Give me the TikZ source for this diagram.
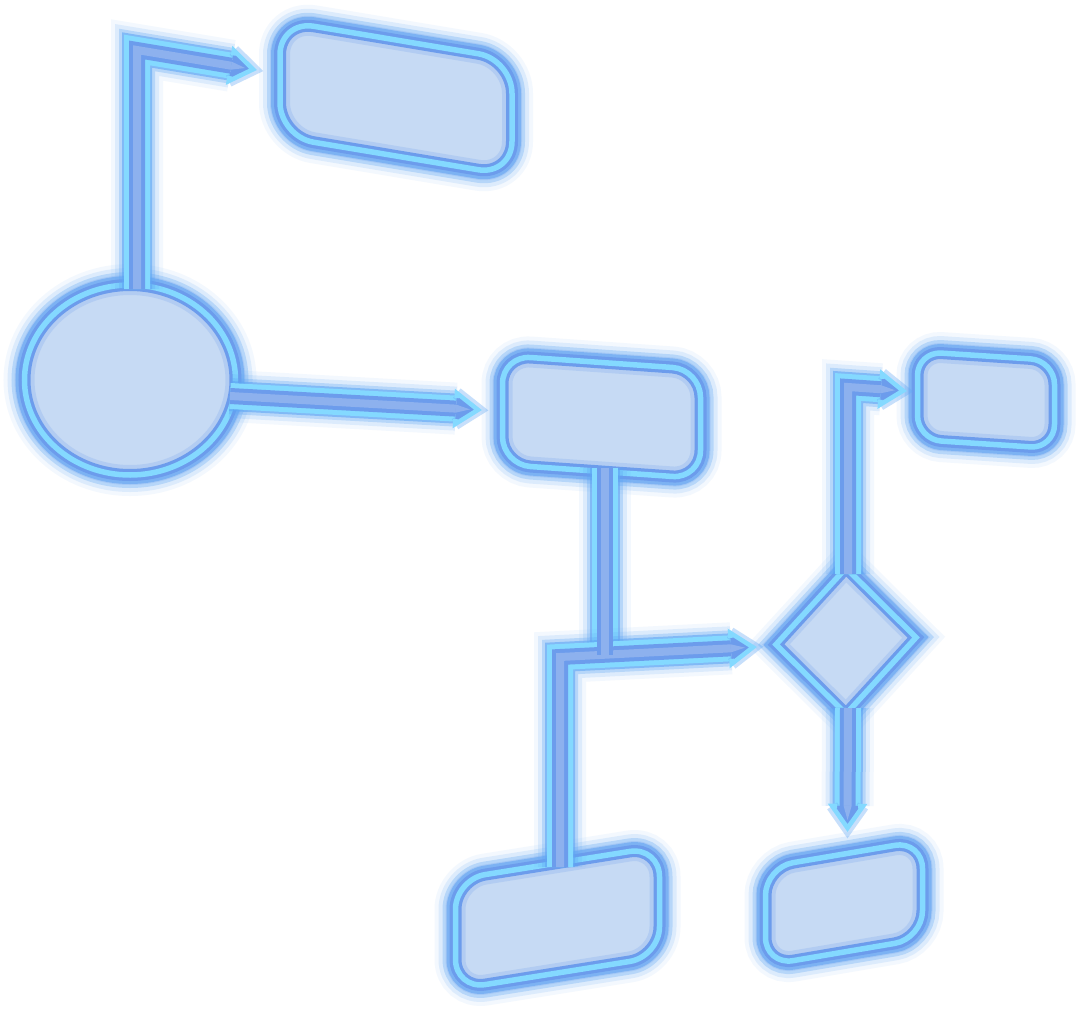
\documentclass[tikz,border=0pt]{standalone}
\usepackage{tikz}
\usetikzlibrary{shapes.geometric,calc,decorations.markings}

\definecolor{boxfill}{HTML}{C6DAF4}
\definecolor{rimcyan}{HTML}{84D9FF}
\definecolor{rimblue}{HTML}{6C9CEC}
\definecolor{haloblue}{HTML}{5FA6F4}
\definecolor{coreblue}{HTML}{A3BFF0}

% arrow head drawn at the end of a pipe
\newcommand{\pipehead}{%
  \draw[haloblue, line width=12pt, opacity=.35] (-26,15.5) -- (-4,0) -- (-26,-15.5);
  \fill[rimblue] (-4,0) -- (-26,15.5) -- (-26,-15.5) -- cycle;
  \fill[coreblue, opacity=.6] (-12,0) -- (-26,4) -- (-26,-4) -- cycle;
  \draw[rimcyan, line width=4.5pt] (-26,10.5) -- (-26,15.5) -- (-4,0) -- (-26,-15.5) -- (-26,-10.5);
}

\begin{document}
\begin{tikzpicture}[x=1pt, y=-1pt,
    halo/.style={preaction={draw=haloblue, line width=42pt, opacity=.07},
                 preaction={draw=haloblue, line width=34pt, opacity=.15},
                 preaction={draw=haloblue, line width=26pt, opacity=.3},
                 preaction={draw=haloblue, line width=18pt, opacity=.6}},
    glowbox/.style={halo, fill=boxfill, draw=rimblue, line width=12pt,
                    postaction={draw=rimblue, line width=20pt, opacity=.22},
                    postaction={draw=rimcyan, line width=5.5pt},
                    inner sep=0pt, outer sep=0pt},
    roundbox/.style={glowbox, rectangle, rounded corners=#1},
    pipebody/.style={preaction={draw=haloblue, line width=52pt, opacity=.07, shorten >=#1},
                     preaction={draw=haloblue, line width=44pt, opacity=.15, shorten >=#1},
                     preaction={draw=haloblue, line width=36pt, opacity=.3, shorten >=#1},
                     preaction={draw=haloblue, line width=30pt, opacity=.6, shorten >=#1},
                     preaction={draw=rimcyan, line width=26pt, shorten >=#1},
                     preaction={draw=rimblue, line width=16pt, shorten >=#1},
                     preaction={draw=coreblue, line width=8pt, opacity=.6, shorten >=#1}},
    pipebody/.default=0pt,
    pipecore/.style={preaction={draw=rimblue, line width=16pt},
                     preaction={draw=coreblue, line width=8pt, opacity=.6}},
    pipe/.style={pipebody=26pt,
                 postaction={decorate, decoration={markings,
                   mark=at position 0.9999 with {\pipehead}}}}]

    \fill[white] (0,0) rectangle (1080,1012);
    \useasboundingbox (0,0) rectangle (1080,1012);

    % Shapes
    \node[roundbox=34pt, yslant=-0.167, minimum width=232pt, minimum height=116pt] (top) at (396,98) {};
    \node[glowbox, ellipse, minimum width=211pt, minimum height=190pt] (ell) at (130,380) {};
    \node[roundbox=28pt, yslant=-0.07, minimum width=198pt, minimum height=109pt] (mid) at (601.5,417) {};
    \node[roundbox=24pt, yslant=-0.065, minimum width=137pt, minimum height=88pt] (side) at (986,400) {};
    \node[glowbox, diamond, yslant=0.05, minimum width=140pt, minimum height=146pt] (dec) at (846,641) {};
    \node[roundbox=30pt, yslant=0.16, minimum width=204pt, minimum height=110pt] (lowl) at (557.5,918) {};
    \node[roundbox=28pt, yslant=0.17, minimum width=157pt, minimum height=98pt] (lowr) at (844,903) {};

    % Ellipse to top box
    \coordinate (s1) at ($(ell.north)+(7,4)$);
    \coordinate (c1) at (137,50);
    \coordinate (e1) at ($(top.west)+(-23,-8.6)$);
    \path[pipe] (s1) -- (c1) -- (e1);

    % Ellipse to middle box
    \coordinate (s2) at ($(ell.east)+(-5.5,16)$);
    \coordinate (e2) at ($(mid.west)+(-20.5,0)$);
    \path[pipe] (s2) -- (e2);

    % Middle box and lower left box to decision
    \coordinate (m3) at ($(mid.south)+(3.5,-4)$);
    \coordinate (j3) at (605,655);
    \coordinate (s3) at ($(lowl.north)+(2.5,4)$);
    \coordinate (c3) at (560,657);
    \coordinate (e3) at ($(dec.west)+(-19,2.5)$);
    \path[pipebody] (m3) -- (j3);
    \path[pipe] (s3) -- (c3) -- (e3);
    \path[pipecore] (m3) -- (j3);

    % Decision to side box
    \coordinate (s4) at ($(dec.north)+(2,6)$);
    \coordinate (c4) at (848,387);
    \coordinate (e4) at ($(side.west)+(-10.5,-4.5)$);
    \path[pipe] (s4) -- (c4) -- (e4);

    % Decision to lower right box
    \coordinate (s5) at ($(dec.south)+(2,-6)$);
    \coordinate (e5) at ($(lowr.north)+(3.5,-22)$);
    \path[pipe] (s5) -- (e5);
\end{tikzpicture}
\end{document}
